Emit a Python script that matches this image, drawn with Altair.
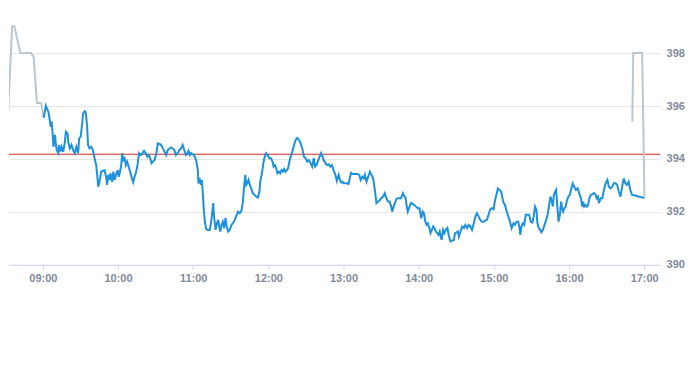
import altair as alt
import pandas as pd

BASE = pd.Timestamp("2024-03-15 09:00:00")

# Minutes after 09:00 and prices
pre_min = [-28.4, -24.5, -22.7, -17.9, -9.5, -7.3, -4.7, -1.3, 0.6]
pre_val = [394.97, 399.02, 399.02, 398.01, 398.01, 397.86, 396.12, 396.12, 395.54]

post_min = [470.5, 471.3, 478.4, 480.2]
post_val = [395.41, 398.01, 398.01, 392.55]

blue_min = [
    0.8, 2.4, 4.5, 5.3, 6.3, 7.1, 7.9, 8.5, 9.7, 10.5, 11.1, 12.4, 12.9, 14.2, 15.0, 16.3, 17.6, 18.4, 19.7, 20.3,
    21.6, 22.9, 24.2, 25.5, 26.8, 28.2, 29.0, 30.2, 31.3, 32.1, 33.4, 34.2, 35.3, 36.1, 37.3, 38.7, 40.0, 41.3, 42.6, 43.4,
    44.2, 45.2, 46.6, 47.9, 49.2, 50.5, 51.3, 52.3, 53.1, 53.9, 55.3, 56.3, 57.4, 58.4, 59.8, 60.6, 61.6, 62.6, 63.4, 64.2,
    65.3, 66.3, 67.3, 68.5, 69.7, 70.8, 72.1, 73.2, 74.2, 75.6,
    76.8, 78.2, 79.5, 80.8, 82.1, 83.5, 84.2, 85.3, 86.8, 87.9, 89.2, 90.6, 91.8, 93.2, 94.5, 95.8, 97.1, 98.5, 99.7, 101.1,
    102.4, 103.7, 105.0, 106.3, 107.6, 109.0, 110.3, 111.6, 112.9, 114.2, 115.5, 116.3, 117.4, 118.4, 119.5, 120.6, 121.6, 122.6, 123.7, 124.2,
    125.3, 126.1, 126.9, 127.7, 128.5, 129.5, 130.5, 131.6, 133.2, 134.2, 135.2, 136.0, 136.8, 137.9, 139.0, 140.0, 140.8, 141.6, 142.7, 143.7,
    144.7, 145.8, 146.8, 147.9, 149.2, 150.6, 151.8, 153.2, 154.5, 155.8, 157.1, 158.5,
    159.7, 160.5, 161.6, 162.4, 163.2, 164.2, 165.2, 166.3, 167.6, 169.0, 170.3, 171.6, 172.9, 173.7, 174.7, 175.8, 176.8, 178.2, 179.5, 180.8,
    182.1, 183.4, 184.2, 185.3, 186.3, 187.3, 188.5, 189.5, 190.5, 191.6, 192.6, 193.7, 194.8, 195.8, 196.8, 197.9, 199.2, 200.5, 201.9, 203.1,
    204.5, 205.8, 207.1, 208.4, 209.8, 211.0, 212.4, 213.7, 215.0, 216.3, 217.3, 218.5, 219.5, 220.5, 222.1, 223.2, 224.2, 225.6, 226.8, 228.2,
    229.5, 230.8, 232.1, 233.5, 234.7, 236.1, 237.2, 238.3, 239.2, 240.0,
    241.3, 242.6, 244.0, 245.3, 246.1, 247.3, 248.5, 249.7, 251.1, 252.6, 253.7, 255.0, 256.3, 257.1, 258.4, 259.7, 261.1, 262.3, 263.7, 265.0,
    266.3, 267.6, 269.0, 270.2, 271.6, 272.9, 274.2, 275.5, 276.9, 278.1, 278.9, 280.0, 281.1, 282.1, 283.4, 284.8, 286.0, 287.4, 288.7, 289.5,
    290.5, 291.3, 292.7, 293.9, 295.3, 296.6, 297.9, 299.2, 300.6, 301.3, 302.1, 303.2, 304.2, 305.3, 306.3, 307.3, 308.5, 309.5, 310.5, 311.6,
    312.6, 313.7, 314.8, 315.8, 316.8, 317.6, 318.4, 319.5, 320.5, 321.6, 322.9, 324.2, 325.5, 326.8, 328.2, 329.0, 330.0, 331.3,
    332.1, 333.4, 334.7, 336.1, 337.3, 338.7, 340.0, 341.3, 342.6, 344.0, 345.2, 346.6, 347.9, 349.2, 350.5, 351.9, 353.1, 354.5, 355.8, 357.1,
    358.4, 359.8, 361.0, 362.4, 363.2, 364.5, 365.8, 366.9, 367.9, 368.9, 370.3, 371.6, 372.9, 374.2, 375.6, 376.8, 378.2, 379.5, 380.3, 381.1,
    382.1, 383.1, 384.2, 385.5, 386.8, 388.2, 389.5, 390.8, 391.8, 392.9, 394.0, 394.7, 395.8, 396.9, 397.9, 399.2, 400.5, 401.8, 403.2, 404.5,
    405.2, 406.3, 407.1, 407.9, 409.0, 409.7, 410.5, 411.6, 412.7, 413.7,
    414.5, 415.3, 416.3, 417.4, 418.4, 419.5, 420.6, 421.6, 422.9, 424.2, 425.5, 426.9, 428.1, 429.5, 430.5, 431.3, 432.1, 433.2, 434.2, 435.2,
    436.3, 437.4, 438.7, 440.0, 441.3, 442.1, 443.1, 443.9, 445.3, 446.6, 447.9, 449.2, 450.6, 451.8, 453.2, 454.5, 455.8, 457.1, 458.5, 459.7,
    461.1, 462.4, 463.7, 465.0, 466.3, 467.6, 469.0, 470.3, 472.9, 475.5, 478.2, 480.2,
]

blue_val = [
    395.57, 396.01, 395.78, 395.54, 395.22, 395.41, 394.91, 394.46, 394.91, 394.53, 394.34, 394.22, 394.53, 394.28, 394.46, 394.28, 394.65, 395.03, 394.97, 394.65,
    394.40, 394.53, 394.34, 394.22, 394.46, 394.22, 394.78, 394.84, 395.28, 395.72, 395.81, 395.78, 395.28, 394.53, 394.40, 394.46, 394.34, 394.03, 393.77, 393.40,
    392.95, 393.14, 393.52, 393.55, 393.58, 393.33, 393.02, 393.40, 393.21, 393.46, 393.14, 393.52, 393.21, 393.40, 393.58, 393.33, 393.52, 393.77, 394.22, 393.96,
    394.03, 393.77, 393.90, 393.71, 393.52, 393.33, 393.12, 393.33, 393.46, 393.77,
    394.22, 394.15, 394.22, 394.31, 394.22, 394.09, 394.15, 394.09, 393.84, 393.90, 393.96, 394.22, 394.59, 394.57, 394.53, 394.40, 394.28, 394.15, 394.34, 394.40,
    394.44, 394.40, 394.34, 394.15, 394.22, 394.34, 394.40, 394.53, 394.34, 394.15, 394.22, 394.31, 394.15, 394.22, 394.19, 394.15, 394.06, 393.90, 393.58, 393.08,
    393.21, 393.02, 393.21, 392.71, 392.08, 391.57, 391.35, 391.32, 391.32, 391.57, 391.95, 392.33, 391.76, 391.32, 391.57, 391.70, 391.45, 391.26, 391.51, 391.63,
    391.39, 391.76, 391.45, 391.26, 391.32, 391.51, 391.57, 391.70, 391.86, 392.01, 391.95, 392.04,
    392.39, 392.89, 393.40, 393.02, 393.08, 393.21, 393.02, 392.89, 392.71, 392.64, 392.58, 392.54, 392.77, 393.21, 393.40, 393.77, 394.03, 394.22, 394.15, 394.03,
    394.03, 393.90, 393.71, 393.77, 393.65, 393.46, 393.52, 393.46, 393.58, 393.52, 393.62, 393.52, 393.58, 393.65, 393.90, 394.09, 394.28, 394.53, 394.72, 394.80,
    394.72, 394.59, 394.40, 394.09, 394.03, 393.90, 393.96, 393.84, 393.71, 394.03, 393.71, 393.77, 393.90, 394.03, 394.22, 394.09, 393.96, 393.84, 393.77, 393.80,
    393.71, 393.77, 393.58, 393.40, 393.17, 393.40, 393.21, 393.11, 393.14, 393.08,
    393.08, 393.08, 393.06, 393.33, 393.48, 393.43, 393.43, 393.43, 393.43, 393.40, 393.21, 393.33, 393.27, 393.40, 393.14, 393.33, 393.52, 393.40, 393.27, 392.83,
    392.33, 392.39, 392.45, 392.52, 392.58, 392.71, 392.52, 392.39, 392.39, 392.20, 392.01, 392.20, 392.33, 392.48, 392.52, 392.52, 392.52, 392.71, 392.58, 392.55,
    392.20, 392.01, 392.20, 392.33, 392.30, 392.26, 392.20, 392.14, 392.14, 391.95, 391.76, 392.01, 391.95, 391.63, 391.51, 391.57, 391.39, 391.20, 391.32, 391.45,
    391.39, 391.26, 391.20, 391.13, 391.26, 391.07, 390.94, 391.32, 391.20, 391.32, 391.39, 391.07, 390.88, 390.92, 390.94, 391.20, 391.22, 391.26,
    391.07, 391.26, 391.45, 391.39, 391.51, 391.39, 391.51, 391.45, 391.32, 391.57, 391.82, 391.95, 391.82, 391.70, 391.63, 391.63, 391.67, 391.70, 391.89, 392.10,
    392.14, 392.10, 392.45, 392.71, 392.89, 392.83, 392.77, 392.52, 392.33, 392.26, 392.01, 391.82, 391.63, 391.39, 391.57, 391.51, 391.63, 391.63, 391.45, 391.13,
    391.45, 391.57, 391.51, 391.89, 391.89, 391.89, 391.63, 391.60, 391.82, 392.20, 392.08, 391.60, 391.39, 391.32, 391.23, 391.32, 391.51, 391.70, 391.95, 392.39,
    392.58, 392.39, 392.20, 392.64, 392.77, 392.83, 392.33, 391.63, 391.89, 392.39,
    392.14, 392.01, 392.14, 392.20, 392.45, 392.58, 392.64, 392.83, 393.08, 392.95, 392.83, 392.89, 392.71, 392.52, 392.20, 392.39, 392.20, 392.26, 392.20, 392.26,
    392.52, 392.64, 392.67, 392.71, 392.64, 392.52, 392.58, 392.33, 392.52, 392.52, 392.83, 393.08, 393.21, 392.95, 392.89, 392.95, 393.08, 393.08, 393.02, 392.77,
    392.58, 392.95, 393.27, 393.08, 393.02, 393.14, 392.83, 392.64, 392.62, 392.58, 392.55, 392.52,
]

ref_price = 394.18
tick_hours = [9, 10, 11, 12, 13, 14, 15, 16, 17]
y_ticks = [390, 392, 394, 396, 398]


def frame(mins, vals):
    return pd.DataFrame({
        "time": [BASE + pd.Timedelta(minutes=m) for m in mins],
        "price": vals,
    })


pre_df = frame(pre_min, pre_val)
post_df = frame(post_min, post_val)
blue_df = frame(blue_min, blue_val)
ref_df = pd.DataFrame({"price": [ref_price]})

x_domain = [
    alt.DateTime(year=2024, month=3, date=15, hours=8, minutes=33, seconds=0),
    alt.DateTime(year=2024, month=3, date=15, hours=17, minutes=12, seconds=40),
]
x_values = [alt.DateTime(year=2024, month=3, date=15, hours=h) for h in tick_hours]

x_scale = alt.Scale(domain=x_domain)
y_scale = alt.Scale(domain=[390, 399.7], nice=False, zero=False)

x_axis = alt.Axis(values=x_values, format="%H:%M", title=None, grid=False,
                  labelFlush=False, tickSize=5, labelPadding=3)
y_axis = alt.Axis(values=y_ticks, orient="right", title=None, grid=True,
                  domain=False, ticks=False, labelPadding=6, format="d")


def line_layer(df, color):
    return alt.Chart(df).mark_line(color=color, strokeWidth=2, clip=True).encode(
        x=alt.X("time:T", scale=x_scale, axis=x_axis),
        y=alt.Y("price:Q", scale=y_scale, axis=y_axis),
    )


ref_rule = alt.Chart(ref_df).mark_rule(color="#d42a22", strokeWidth=1).encode(
    y=alt.Y("price:Q", scale=y_scale, axis=y_axis),
)

chart = alt.layer(
    ref_rule,
    line_layer(pre_df, "#bcc6cf"),
    line_layer(post_df, "#bcc6cf"),
    line_layer(blue_df, "#1d90de"),
).properties(
    width=652,
    height=257,
    padding={"left": 0, "top": 0, "right": 0, "bottom": 0},
).configure_view(
    stroke=None,
).configure_axis(
    labelFont="Liberation Sans",
    labelFontSize=11,
    labelFontWeight="bold",
    labelColor="#808b99",
    gridColor="#e6e6e6",
    gridWidth=1,
    domainColor="#ccd6eb",
    tickColor="#ccd6eb",
)

chart.save("out.html", embed_options={"renderer": "svg", "actions": False})
